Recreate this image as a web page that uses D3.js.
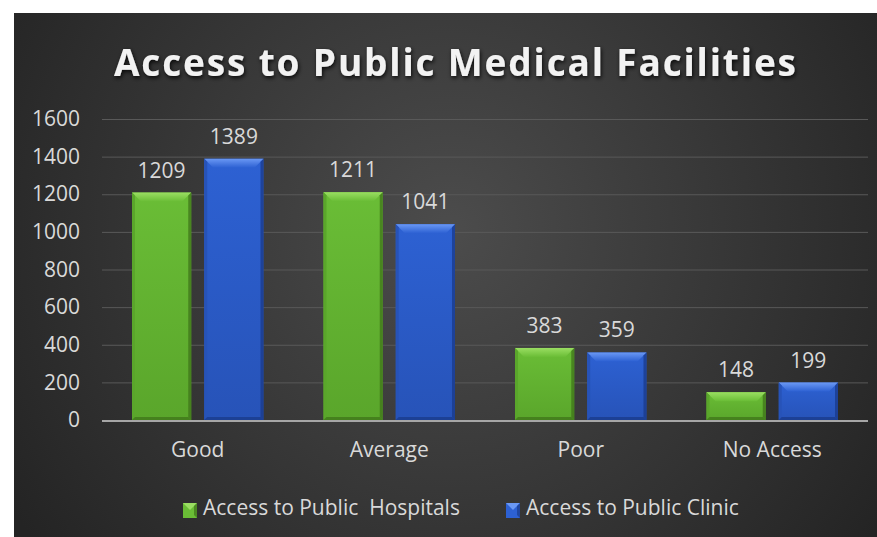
<!DOCTYPE html>
<html>
<head>
<meta charset="utf-8">
<script src="https://cdn.jsdelivr.net/npm/d3@7"></script>
<style>
  html, body { margin: 0; padding: 0; background: #ffffff; }
  svg { display: block; }
  text { font-family: "Open Sans", "DejaVu Sans", sans-serif; }
</style>
</head>
<body>
<svg id="chart" width="877" height="537"></svg>
<script>
// Chart data
const categories = ["Good", "Average", "Poor", "No Access"];
const seriesNames = ["Access to Public  Hospitals", "Access to Public Clinic"];
const hospitals = [1209, 1211, 383, 148];
const clinics = [1389, 1041, 359, 199];
const yTicks = [0, 200, 400, 600, 800, 1000, 1200, 1400, 1600];
const titleText = "Access to Public Medical Facilities";

const W = 877, H = 537;
const FONT = 21;
const LABEL = "#d9d9d9";
const svg = d3.select("#chart");
const defs = svg.append("defs");

// Background: dark panel with a soft radial highlight
const bg = defs.append("radialGradient").attr("id", "bgGrad")
  .attr("gradientUnits", "userSpaceOnUse")
  .attr("cx", 450).attr("cy", 230).attr("r", 520);
bg.append("stop").attr("offset", "0%").attr("stop-color", "#4c4c4c");
bg.append("stop").attr("offset", "100%").attr("stop-color", "#242424");
svg.append("rect").attr("x", 14).attr("y", 13).attr("width", W - 14).attr("height", H - 13)
  .attr("fill", "url(#bgGrad)");

// Title with drop shadow
const sh = defs.append("filter").attr("id", "tshadow")
  .attr("x", "-10%").attr("y", "-30%").attr("width", "120%").attr("height", "170%");
sh.append("feDropShadow").attr("dx", 1).attr("dy", 2).attr("stdDeviation", 2)
  .attr("flood-color", "#000").attr("flood-opacity", 0.85);

svg.append("text")
  .attr("x", 455).attr("y", 76)
  .attr("text-anchor", "middle")
  .attr("font-size", 37).attr("font-weight", 700)
  .attr("fill", "#f2f2f2")
  .attr("textLength", 682).attr("lengthAdjust", "spacing")
  .attr("filter", "url(#tshadow)")
  .text(titleText);

// Scales
const plotLeft = 102, plotRight = 868, plotTop = 119, plotBottom = 420;
const y = d3.scaleLinear().domain([0, 1600]).range([plotBottom, plotTop]);
const x0 = d3.scaleBand().domain(categories).range([plotLeft, plotRight]);
const x1 = d3.scaleBand().domain(seriesNames).range([30, x0.bandwidth() - 30]).paddingInner(0.18);

// Gridlines and value axis labels
const yAxis = d3.axisLeft(y).tickValues(yTicks).tickFormat(d3.format("d"))
  .tickSize(-(plotRight - plotLeft)).tickPadding(22);
const gy = svg.append("g").attr("transform", `translate(${plotLeft},0)`).call(yAxis);
gy.select(".domain").remove();
gy.selectAll(".tick line").attr("stroke", "#595959").attr("stroke-width", 1);
gy.selectAll(".tick text").attr("fill", LABEL).attr("font-size", FONT)
  .attr("font-family", "'Open Sans', sans-serif");
gy.selectAll(".tick").filter(d => d === 0).select("line").attr("stroke", "none");

// Bar colours
const palette = [
  { main: "#6abd36", top: "#9ade62", side: "#5aa62b", dark: "#3f7419" },
  { main: "#2d61d3", top: "#6a98f4", side: "#2753b8", dark: "#1a3a8a" }
];
palette.forEach((p, i) => {
  const g = defs.append("linearGradient").attr("id", "barGrad" + i)
    .attr("x1", 0).attr("y1", 0).attr("x2", 0).attr("y2", 1);
  g.append("stop").attr("offset", "0%").attr("stop-color", p.main);
  g.append("stop").attr("offset", "100%").attr("stop-color", p.side);
  const t = defs.append("linearGradient").attr("id", "topGrad" + i)
    .attr("x1", 0).attr("y1", 0).attr("x2", 0).attr("y2", 1);
  t.append("stop").attr("offset", "0%").attr("stop-color", p.top);
  t.append("stop").attr("offset", "100%").attr("stop-color", p.main);
});

const seriesData = [hospitals, clinics];
const pts = arr => arr.map(q => q.join(",")).join(" ");

const groups = svg.append("g").selectAll("g.cat").data(categories).join("g")
  .attr("class", "cat")
  .attr("transform", d => `translate(${x0(d)},0)`);

seriesNames.forEach((name, si) => {
  const p = palette[si];
  groups.each(function (cat, ci) {
    const v = seriesData[si][ci];
    const g = d3.select(this);
    const bx = x1(name), bw = x1.bandwidth();
    const top = y(v), bottom = y(0), bh = bottom - top;
    const s = 3, tb = Math.min(9, bh / 3);
    // body
    g.append("rect").attr("x", bx).attr("y", top).attr("width", bw).attr("height", bh)
      .attr("fill", `url(#barGrad${si})`);
    // top bevel
    g.append("polygon").attr("points",
      pts([[bx, top], [bx + bw, top], [bx + bw - tb, top + tb], [bx + tb, top + tb]]))
      .attr("fill", `url(#topGrad${si})`);
    // left bevel
    g.append("polygon").attr("points",
      pts([[bx, top], [bx + s, top + s], [bx + s, bottom - s], [bx, bottom]]))
      .attr("fill", p.side);
    // right bevel
    g.append("polygon").attr("points",
      pts([[bx + bw, top], [bx + bw - s, top + s], [bx + bw - s, bottom - s], [bx + bw, bottom]]))
      .attr("fill", p.dark).attr("opacity", 0.75);
    // bottom bevel
    g.append("polygon").attr("points",
      pts([[bx, bottom], [bx + s, bottom - s], [bx + bw - s, bottom - s], [bx + bw, bottom]]))
      .attr("fill", p.dark).attr("opacity", 0.75);
    // value label
    g.append("text").attr("x", bx + bw / 2).attr("y", top - 15)
      .attr("text-anchor", "middle").attr("font-size", FONT).attr("fill", LABEL)
      .text(v);
  });
});

// Category axis line
svg.append("line").attr("x1", plotLeft).attr("x2", plotRight)
  .attr("y1", y(0) + 1).attr("y2", y(0) + 1)
  .attr("stroke", "#a6a6a6").attr("stroke-width", 2);

// Category labels
const xAxis = d3.axisBottom(x0).tickSize(0).tickPadding(22);
const gx = svg.append("g").attr("transform", `translate(0,${plotBottom})`).call(xAxis);
gx.select(".domain").remove();
gx.selectAll(".tick text").attr("fill", LABEL).attr("font-size", FONT)
  .attr("font-family", "'Open Sans', sans-serif");

// Legend
const legendItems = [
  { name: seriesNames[0], x: 183, p: palette[0] },
  { name: seriesNames[1], x: 506, p: palette[1] }
];
const lg = svg.append("g").selectAll("g").data(legendItems).join("g")
  .attr("transform", d => `translate(${d.x},503)`);
lg.append("rect").attr("width", 14).attr("height", 15).attr("fill", d => d.p.main);
lg.append("polygon").attr("points", "0,0 14,0 7,7").attr("fill", d => d.p.top);
lg.append("polygon").attr("points", "14,0 14,15 11,12 11,3").attr("fill", d => d.p.dark).attr("opacity", 0.7);
lg.append("text").attr("x", 20).attr("y", 12)
  .attr("font-size", FONT).attr("fill", LABEL)
  .attr("xml:space", "preserve")
  .text(d => d.name);
</script>
</body>
</html>
